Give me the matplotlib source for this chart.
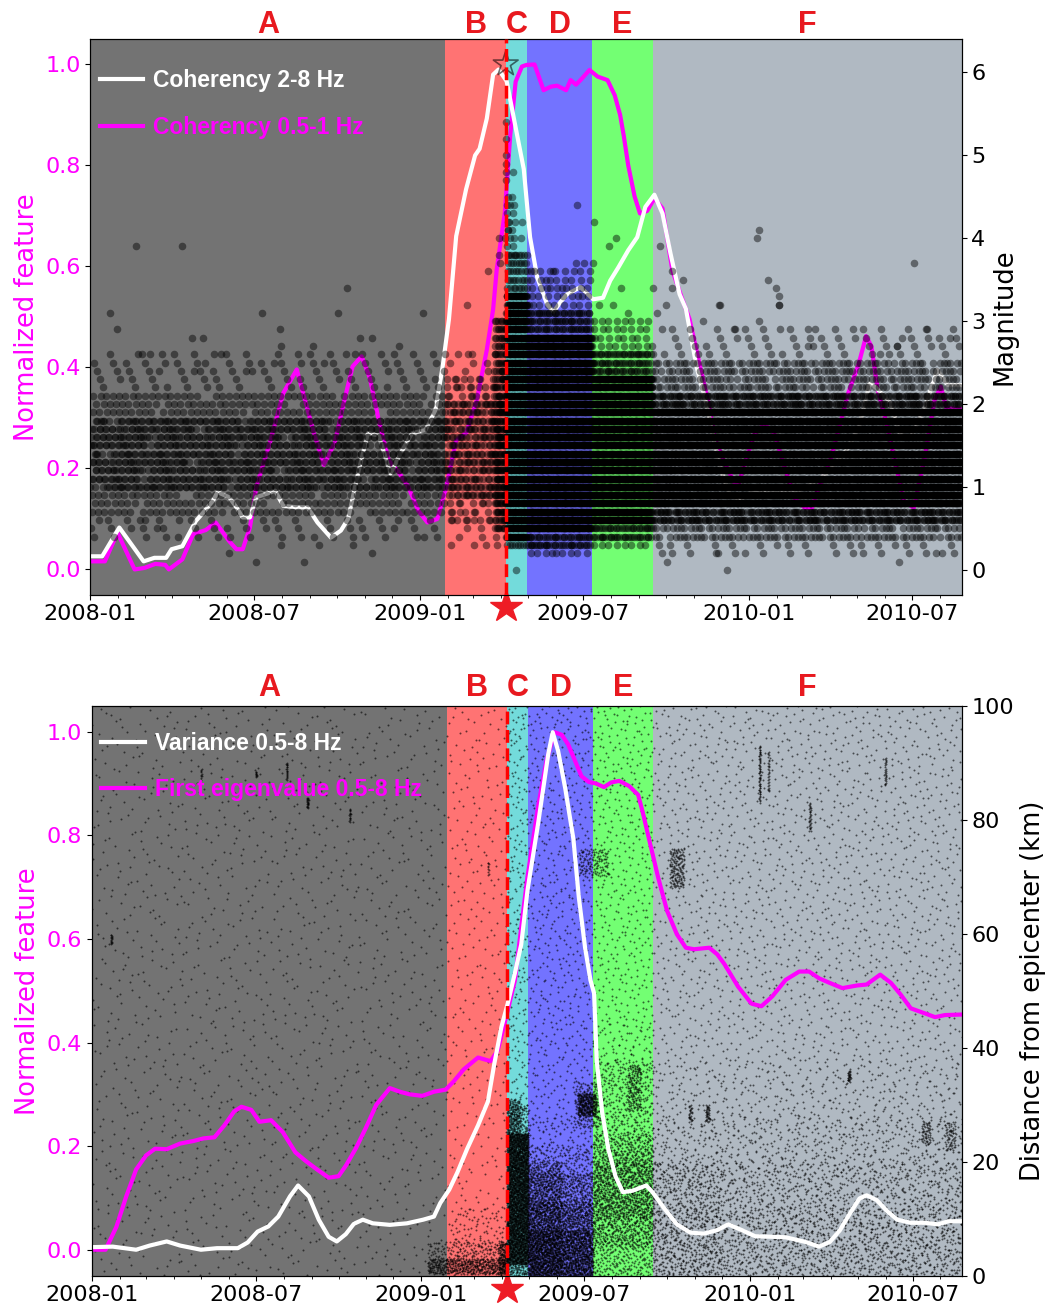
import numpy as np
import matplotlib
matplotlib.use("Agg")
import matplotlib.pyplot as plt
import matplotlib.dates as mdates
import matplotlib.transforms as mtransforms

plt.rcParams['font.family'] = 'DejaVu Sans'

# ---------------- data (days counted from 2008-01-01) ----------------
START = np.datetime64('2008-01-01')
MAINSHOCK_DAY = 461          # 2009-04-06
X_END = 967

region_labels = ['A', 'B', 'C', 'D', 'E', 'F']
region_edges = [0, 394, 461, 485, 557, 624, 967]
region_colors = ['k', 'r', 'c', 'b', 'lime', 'slategray']

# top panel: coherency curves
coh28_day = [0, 13, 32, 59, 71, 84, 90, 102, 117, 124,
             136, 141, 154, 162, 169, 177, 184, 196, 205, 214,
             229, 241, 252, 267, 278, 286, 297, 308, 320, 333,
             344, 357, 372, 383, 391, 398, 406, 417, 427, 432,
             440, 447, 453, 462, 473, 481, 488, 496, 507, 514,
             522, 529, 544, 558, 569, 577, 586, 597, 607, 616,
             626, 635, 644, 654, 661, 673, 684, 693, 703, 710,
             720, 733, 748, 763, 778, 793, 816, 839, 853, 865,
             872, 888, 899, 910, 926, 940, 952, 967]
coh28_val = [0.026, 0.026, 0.083, 0.016, 0.023, 0.023, 0.04, 0.046, 0.096, 0.11,
             0.136, 0.153, 0.143, 0.123, 0.103, 0.103, 0.143, 0.15, 0.156, 0.126,
             0.123, 0.123, 0.093, 0.063, 0.077, 0.1, 0.19, 0.27, 0.265, 0.19,
             0.229, 0.27, 0.276, 0.316, 0.402, 0.496, 0.66, 0.753, 0.82, 0.833,
             0.893, 0.98, 0.99, 0.967, 0.866, 0.793, 0.658, 0.578, 0.525, 0.51,
             0.53, 0.545, 0.559, 0.535, 0.538, 0.572, 0.598, 0.632, 0.658, 0.718,
             0.742, 0.705, 0.625, 0.545, 0.516, 0.40, 0.328, 0.248, 0.18, 0.148,
             0.138, 0.152, 0.155, 0.155, 0.152, 0.161, 0.188, 0.235, 0.281, 0.368,
             0.36, 0.33, 0.268, 0.26, 0.32, 0.395, 0.365, 0.365]

coh051_day = [0, 16, 30, 49, 60, 72, 83, 87, 102, 114,
              128, 139, 154, 162, 169, 177, 184, 199, 214, 229,
              239, 248, 259, 271, 282, 291, 301, 310, 320, 331,
              342, 353, 364, 374, 385, 394, 406, 417, 429, 440,
              447, 451, 460, 466, 472, 479, 484, 493, 503, 511,
              518, 528, 533, 539, 544, 554, 563, 574, 582, 588,
              592, 597, 604, 610, 618, 626, 635, 646, 656, 665,
              677, 686, 693, 703, 718, 726, 737, 748, 759, 771,
              782, 793, 801, 808, 820, 831, 841, 853, 861, 867,
              874, 884, 893, 903, 914, 926, 937, 944, 950, 967]
coh051_val = [0.016, 0.016, 0.073, 0.0, 0.003, 0.011, 0.009, 0.0, 0.02, 0.07,
              0.078, 0.093, 0.056, 0.04, 0.04, 0.083, 0.163, 0.25, 0.349, 0.396,
              0.33, 0.27, 0.207, 0.25, 0.336, 0.402, 0.422, 0.38, 0.296, 0.216,
              0.193, 0.163, 0.116, 0.093, 0.1, 0.156, 0.256, 0.27, 0.336, 0.435,
              0.515, 0.594, 0.707, 0.86, 0.966, 0.996, 0.999, 1.0, 0.949, 0.956,
              0.958, 0.949, 0.969, 0.96, 0.969, 0.989, 0.976, 0.969, 0.939, 0.9,
              0.859, 0.8, 0.739, 0.705, 0.71, 0.735, 0.715, 0.592, 0.54, 0.496,
              0.40, 0.33, 0.26, 0.215, 0.16, 0.208, 0.268, 0.288, 0.27, 0.2,
              0.14, 0.122, 0.122, 0.161, 0.208, 0.28, 0.348, 0.408, 0.462, 0.442,
              0.355, 0.288, 0.215, 0.135, 0.122, 0.221, 0.335, 0.362, 0.32, 0.318]

# bottom panel: variance and first eigenvalue
var_day = [1, 23, 49, 64, 83, 98, 121, 139, 162, 173,
           184, 196, 207, 220, 229, 241, 252, 263, 272, 282,
           291, 301, 312, 331, 350, 368, 380, 387, 397, 406,
           417, 429, 440, 447, 455, 462, 470, 477, 484, 496,
           507, 512, 518, 526, 535, 541, 548, 554, 558, 561,
           567, 574, 582, 590, 601, 616, 623, 635, 650, 665,
           680, 695, 707, 722, 737, 756, 771, 793, 808, 820,
           831, 842, 853, 861, 872, 884, 895, 910, 926, 940,
           952, 967]
var_val = [0.005, 0.006, 0.0, 0.008, 0.016, 0.008, 0.0, 0.003, 0.003, 0.014,
           0.035, 0.045, 0.064, 0.103, 0.124, 0.103, 0.058, 0.025, 0.016, 0.03,
           0.05, 0.058, 0.051, 0.048, 0.051, 0.058, 0.064, 0.09, 0.116, 0.149,
           0.195, 0.24, 0.286, 0.358, 0.43, 0.475, 0.534, 0.589, 0.694, 0.825,
           0.956, 0.999, 0.963, 0.89, 0.793, 0.681, 0.583, 0.52, 0.495, 0.364,
           0.265, 0.193, 0.141, 0.111, 0.114, 0.124, 0.111, 0.082, 0.049, 0.033,
           0.031, 0.038, 0.049, 0.038, 0.026, 0.025, 0.024, 0.015, 0.006, 0.015,
           0.037, 0.069, 0.099, 0.105, 0.096, 0.074, 0.058, 0.052, 0.052, 0.049,
           0.055, 0.055]

eig_day = [1, 15, 27, 38, 49, 60, 70, 83, 98, 113,
           124, 136, 147, 158, 166, 177, 186, 199, 212, 226,
           237, 250, 263, 274, 282, 293, 304, 316, 331, 342,
           353, 367, 380, 393, 402, 413, 429, 443, 451, 462,
           470, 477, 484, 496, 505, 514, 522, 529, 537, 544,
           552, 560, 569, 577, 586, 597, 607, 612, 620, 629,
           639, 650, 660, 669, 686, 695, 703, 718, 733, 744,
           756, 771, 786, 797, 808, 820, 834, 850, 861, 876,
           888, 899, 910, 926, 937, 948, 967]
eig_val = [0.0, 0.0, 0.044, 0.103, 0.155, 0.182, 0.195, 0.194, 0.205, 0.21,
           0.215, 0.217, 0.24, 0.267, 0.276, 0.27, 0.247, 0.25, 0.227, 0.188,
           0.172, 0.155, 0.139, 0.142, 0.162, 0.195, 0.234, 0.28, 0.312, 0.305,
           0.3, 0.297, 0.305, 0.309, 0.325, 0.348, 0.371, 0.364, 0.385, 0.462,
           0.52, 0.622, 0.72, 0.858, 0.943, 0.999, 0.994, 0.976, 0.943, 0.914,
           0.903, 0.9, 0.893, 0.902, 0.905, 0.895, 0.878, 0.845, 0.786, 0.72,
           0.655, 0.609, 0.583, 0.58, 0.583, 0.57, 0.551, 0.508, 0.475, 0.47,
           0.489, 0.521, 0.537, 0.537, 0.524, 0.515, 0.505, 0.51, 0.512, 0.531,
           0.515, 0.492, 0.466, 0.456, 0.449, 0.453, 0.454]

# magnitude catalogue: dense part summarised as bands of 0.1-magnitude rows,
# with the mean number of days between events on each row
band_start = [0, 0, 0, 394, 394, 394, 448,
              461, 461, 461, 485, 485, 485, 557, 557, 557,
              624, 624, 624, 624]
band_end = [394, 394, 394, 461, 461, 461, 461,
            485, 485, 472, 557, 557, 557, 624, 624, 624,
            967, 967, 967, 967]
band_lo = [1.0, 0.7, 0.4, 0.9, 0.6, 0.3, 0.5,
           0.4, 0.3, 3.8, 0.5, 0.3, 0.2, 0.6, 0.4, 0.3,
           0.8, 0.6, 0.4, 0.2]
band_hi = [1.8, 2.1, 2.6, 2.0, 2.3, 2.6, 3.0,
           3.3, 3.8, 4.5, 2.8, 3.1, 3.6, 2.3, 2.6, 3.0,
           1.9, 2.1, 2.5, 2.9]
band_every = [6, 12, 22, 5, 10, 22, 2,
              1, 3, 6, 1, 3, 8, 1, 3, 8,
              1, 3, 7, 20]

# isolated events read one by one
ev_day = [22, 50, 102, 190, 275, 285, 369, 418, 441,
          29, 210, 113, 125, 299, 313, 211, 247, 342,
          53, 66, 145, 284, 294, 419, 127, 204, 259, 384,
          392, 76, 115, 173,
          237, 312, 154, 184, 211, 254, 291, 439, 472, 337, 370, 10, 60, 74,
          461, 461, 461, 461, 461, 461, 462, 463, 460, 464, 469, 454, 454, 455,
          742, 740, 914, 752, 761, 764, 764, 698, 632, 646,
          658, 646, 639, 629, 583, 576, 589, 624, 558, 559,
          540, 548, 539, 514, 510, 479, 478, 565, 580, 597,
          707, 640, 898, 694, 945, 699, 764, 714, 797, 901,
          954, 929, 876, 895, 680, 742, 804]
ev_mag = [3.1, 3.9, 3.9, 3.1, 3.1, 3.4, 3.1, 3.2, 3.6,
          2.9, 2.9, 2.8, 2.8, 2.8, 2.8, 2.7, 2.7, 2.7,
          2.6, 2.6, 2.6, 2.6, 2.6, 2.6, 2.5, 2.5, 2.5, 2.5,
          2.4, 2.4, 2.4, 2.4,
          0.1, 0.2, 0.2, 0.1, 0.3, 0.3, 0.3, 0.3, 0.0, 0.5, 0.4, 0.6, 0.6, 0.5,
          5.4, 5.2, 5.0, 4.9, 4.8, 4.7, 4.4, 4.2, 4.0, 4.1, 4.8, 4.0, 3.8, 3.7,
          4.1, 4.0, 3.7, 3.5, 3.4, 3.3, 3.2, 3.2, 3.9, 3.6,
          3.5, 3.4, 3.2, 3.1, 4.0, 3.9, 3.4, 3.4, 3.7, 4.2,
          4.4, 3.7, 3.7, 3.6, 3.4, 4.2, 4.0, 3.2, 3.2, 3.1,
          0.0, 0.1, 0.1, 0.2, 0.2, 3.2, 3.2, 2.9, 2.7, 2.8,
          2.8, 2.9, 2.6, 2.7, 3.0, 3.0, 2.9]
mainshock_mag = 6.1

# distance catalogue summarised as boxes: day range, km range, number of events
box_d0 = [0, 394, 461, 485, 557, 624,                        # background
          373, 373, 400, 452,                                # foreshocks
          461, 461, 461, 461,                                # C
          485, 485, 485, 485, 485, 485,                      # D
          540, 536, 541,                                     # clusters near D/E
          557, 557, 557, 557, 557, 595,                      # E
          624, 624, 624, 624, 624,                           # F
          642, 741.5, 751, 797, 881, 922, 948, 682, 663, 840,
          216, 239, 286, 182, 121, 21, 440]
box_d1 = [394, 461, 485, 557, 624, 967,
          461, 461, 461, 461,
          485, 485, 476, 485,
          557, 557, 557, 557, 557, 522,
          560, 566, 574,
          624, 624, 624, 624, 624, 610,
          967, 967, 967, 967, 700,
          658, 743, 753, 799, 883, 932, 960, 686, 667, 843,
          217, 240, 287, 183, 122, 22, 441]
box_k0 = [0, 0, 25, 25, 25, 0,
          0.3, 0.3, 0, 0,
          2, 0, 25, 0,
          0, 0, 0, 0, 0, 0,
          28, 26, 70,
          0, 5, 10, 22, 0, 29,
          0, 0, 0, 0, 0,
          68, 83, 85, 78, 86, 23, 22, 27, 27, 34,
          87, 82, 79.5, 87.5, 87, 58, 70]
box_k1 = [100, 100, 100, 100, 100, 100,
          3, 6, 12, 6,
          25, 30, 31, 2,
          8, 13, 18, 23, 28, 20,
          32, 34, 75,
          25, 22, 20, 38, 45, 37,
          12, 20, 28, 38, 20,
          75, 93, 92, 83, 91, 27, 27, 30, 30, 36,
          90, 84, 82, 88.5, 89, 60, 72.5]
box_n = [1500, 320, 250, 600, 550, 2600,
         350, 250, 120, 120,
         2600, 600, 150, 40,
         700, 800, 900, 600, 300, 600,
         250, 150, 120,
         900, 600, 300, 300, 150, 120,
         500, 800, 800, 500, 300,
         150, 60, 30, 30, 25, 50, 60, 35, 25, 25,
         20, 20, 15, 10, 10, 15, 10]

# ---------------- helpers ----------------
base = mdates.date2num(START)
GOLD = 0.6180339887498949


def radical_inverse(i, b):
    i = np.array(i, dtype=np.int64)
    r = np.zeros(i.shape)
    f = 1.0
    while np.any(i > 0):
        f /= b
        r += f * (i % b)
        i //= b
    return r


def band_points():
    # events of each row laid out evenly along the band's days
    xs, ys = [], []
    for j, (s, e, lo, hi, every) in enumerate(zip(band_start, band_end, band_lo,
                                                   band_hi, band_every)):
        rows = np.round(np.arange(lo, hi + 0.05, 0.1), 1)
        for r, m in enumerate(rows):
            n = max(int(round((e - s) / every)), 1)
            u = (0.37 * j + 0.7548776662 * r + GOLD * np.arange(n)) % 1.0
            xs.append(s + u * (e - s))
            ys.append(np.full(n, m))
    return np.concatenate(xs), np.concatenate(ys)


def box_points():
    # each box's events spread evenly over the box (Halton layout)
    xs, ys = [], []
    k = 1
    for d0, d1, k0, k1, n in zip(box_d0, box_d1, box_k0, box_k1, box_n):
        i = np.arange(n) + k
        k += n
        xs.append(d0 + radical_inverse(i, 2) * (d1 - d0))
        ys.append(k0 + radical_inverse(i, 3) * (k1 - k0))
    return np.concatenate(xs), np.concatenate(ys)


def shade(ax):
    days = np.arange(0, X_END)
    idx = np.searchsorted(region_edges, days, side='right') - 1
    idx = np.clip(idx, 0, len(region_colors) - 1)
    cols = [region_colors[i] for i in idx]
    ax.bar(base + days, 1.1, width=1.0, bottom=-0.05, align='edge',
           color=cols, alpha=0.55, linewidth=0, zorder=0)


def letters(ax, y):
    tr = mtransforms.blended_transform_factory(ax.transData, ax.transAxes)
    for i, lab in enumerate(region_labels):
        mid = base + 0.5 * (region_edges[i] + region_edges[i + 1])
        ax.text(mid, y, lab, transform=tr, ha='center', va='baseline',
                color='#e8191f', fontsize=22, fontweight='bold',
                family='Liberation Sans')


def date_axis(ax):
    ax.set_xlim(base, base + X_END)
    ax.xaxis.set_major_locator(mdates.MonthLocator(bymonth=[1, 7]))
    ax.xaxis.set_minor_locator(mdates.MonthLocator())
    ax.xaxis.set_major_formatter(mdates.DateFormatter('%Y-%m'))
    ax.tick_params(axis='x', labelsize=16)
    ax.tick_params(axis='y', labelsize=16, labelcolor='#ff00ff')
    ax.set_ylim(-0.05, 1.05)
    ax.set_ylabel('Normalized feature', color='#ff00ff', fontsize=18.5)


def legend(ax, handles, anchor_y, spacing):
    ax.legend(handles=handles, loc='upper left', bbox_to_anchor=(0.0, anchor_y),
              borderaxespad=0.0, frameon=False, labelcolor='linecolor',
              prop=dict(family='Liberation Sans', weight='bold', size=16.5),
              handlelength=1.9, handletextpad=0.45, labelspacing=spacing)


def quake_marks(ax, axr):
    ax.plot(base + MAINSHOCK_DAY, -0.075, marker='*', ms=24, color='#ee1c25',
            clip_on=False, zorder=10)
    axr.axvline(base + MAINSHOCK_DAY, color='red', ls='--', lw=2.5, zorder=5)


fig = plt.figure(figsize=(10.52, 13.07), dpi=100)

# ---------------- top panel ----------------
ax1 = fig.add_axes([0.086, 0.545, 0.828, 0.425])
shade(ax1)
m1, = ax1.plot(base + np.array(coh051_day), coh051_val, color='#ff00ff', lw=3,
               label='Coherency 0.5-1 Hz', zorder=2)
w1, = ax1.plot(base + np.array(coh28_day), coh28_val, color='white', lw=3,
               label='Coherency 2-8 Hz', zorder=3)
date_axis(ax1)
legend(ax1, [w1, m1], 0.963, 1.07)
letters(ax1, 1.012)

ax1r = ax1.twinx()
bx, by = band_points()
ax1r.scatter(base + bx, by, s=30, c='k', alpha=0.45, linewidths=0)
ax1r.scatter(base + np.array(ev_day), ev_mag, s=30, c='k', alpha=0.45, linewidths=0)
ax1r.scatter(base + MAINSHOCK_DAY, mainshock_mag, marker='*', s=350,
             facecolors='none', edgecolors='k', alpha=0.55, linewidths=1.2)
ax1r.set_ylim(-0.3, 6.4)
ax1r.set_yticks(range(7))
ax1r.tick_params(axis='y', labelsize=16)
ax1r.set_ylabel('Magnitude', fontsize=18.5)
quake_marks(ax1, ax1r)
ax1r.set_xlim(base, base + X_END)

# ---------------- bottom panel ----------------
ax2 = fig.add_axes([0.0875, 0.024, 0.827, 0.436])
shade(ax2)
m2, = ax2.plot(base + np.array(eig_day), eig_val, color='#ff00ff', lw=3,
               label='First eigenvalue 0.5-8 Hz', zorder=2)
w2, = ax2.plot(base + np.array(var_day), var_val, color='white', lw=3,
               label='Variance 0.5-8 Hz', zorder=3)
date_axis(ax2)
legend(ax2, [w2, m2], 0.97, 1.02)
letters(ax2, 1.018)

ax2r = ax2.twinx()
ax2r.set_ylim(0, 100)
ax2r.set_xlim(base, base + X_END)
# distance dots sit under the curves here, so draw them on ax2 in ax2r's scale
px, py = box_points()
ax2.scatter(base + px, py, s=2, c='k', alpha=0.6, linewidths=0,
            transform=ax2r.transData, zorder=1)
ax2r.tick_params(axis='y', labelsize=16)
ax2r.set_ylabel('Distance from epicenter (km)', fontsize=18.5)
quake_marks(ax2, ax2r)

fig.savefig('out.png', dpi=100)
